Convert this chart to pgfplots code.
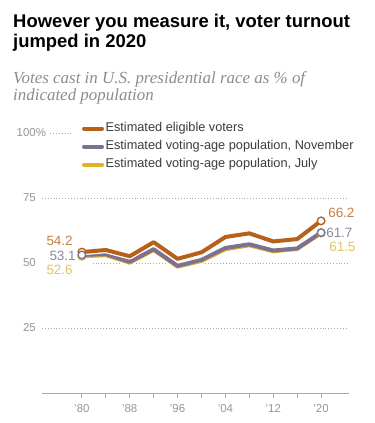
\documentclass[border=0pt]{standalone}
\usepackage{pgfplots}
\pgfplotsset{compat=1.18}
\usepackage{fontspec}
\setmainfont{Liberation Sans}
\newfontfamily\subfont{Liberation Serif}
\definecolor{cOr}{RGB}{183,96,26}
\definecolor{cPu}{RGB}{125,112,145}
\definecolor{cYe}{RGB}{224,178,36}
\definecolor{lOr}{RGB}{196,125,70}
\definecolor{lPu}{RGB}{140,135,160}
\definecolor{lYe}{RGB}{228,195,100}
\definecolor{tgrey}{RGB}{150,150,150}
\definecolor{ggrey}{RGB}{170,170,170}
\definecolor{sgrey}{RGB}{140,140,140}
\definecolor{legtext}{RGB}{60,60,60}
\begin{document}
\begin{tikzpicture}[x=1bp,y=1bp]
\path[use as bounding box] (-42,-30) rectangle (333,393);
\node[anchor=base west, inner sep=0pt, font=\bfseries\fontsize{18.5}{22}\selectfont] at (-29,366) {However you measure it, voter turnout};
\node[anchor=base west, inner sep=0pt, font=\bfseries\fontsize{18.5}{22}\selectfont] at (-29,346) {jumped in 2020};
\node[anchor=base west, inner sep=0pt, text=sgrey, font=\subfont\itshape\fontsize{17}{19}\selectfont] at (-29,310) {Votes cast in U.S. presidential race as \% of};
\node[anchor=base west, inner sep=0pt, text=sgrey, font=\subfont\itshape\fontsize{17}{19}\selectfont] at (-29,293) {indicated population};
\begin{axis}[
  at={(0,0)}, anchor=south west,
  scale only axis, width=307bp, height=260bp,
  xmin=1973.33, xmax=2024.67, ymin=0, ymax=100,
  clip=false,
  axis x line*=bottom, axis y line*=left,
  x axis line style={draw=ggrey, line width=0.8bp, -},
  y axis line style={draw=none},
  xtick={1980,1984,...,2020},
  xticklabels={’80,,’88,,’96,,’04,,’12,,’20},
  xtick align=outside, major tick length=5bp,
  xtick style={draw=ggrey, line width=0.8bp},
  ytick={25,50,75,100},
  yticklabels={25,50,75,100\rlap{\%}},
  ytick style={draw=none},
  yticklabel style={anchor=east, inner sep=0pt, xshift=-6bp},
  xticklabel style={inner sep=0pt, yshift=-6bp},
  ticklabel style={text=tgrey, font=\fontsize{11.5}{13}\selectfont},
  legend style={draw=none, fill=white, at={(0.12,1.06)}, anchor=north west,
    font=\fontsize{12.8}{14}\selectfont, text=legtext,
    nodes={inner sep=1.5bp, text height=9bp, text depth=3bp, inner ysep=3bp},
    cells={anchor=west}},
  legend cell align=left,
  legend image code/.code={\draw[line width=4bp, line cap=round] (0bp,0bp) -- (18bp,0bp);},
]
% gridlines
\draw[ggrey, dotted, line width=0.9bp] (axis cs:1973.33,25) -- (axis cs:2024.5,25);
\draw[ggrey, dotted, line width=0.9bp] (axis cs:1981.8,50) -- (axis cs:2024.5,50);
\draw[ggrey, dotted, line width=0.9bp] (axis cs:1973.33,75) -- (axis cs:2024.5,75);
\draw[ggrey, dotted, line width=0.9bp] (axis cs:1974.7,100) -- (axis cs:1978.4,100);
% legend entries
\addlegendimage{cOr}\addlegendentry{Estimated eligible voters}
\addlegendimage{cPu}\addlegendentry{Estimated voting-age population, November}
\addlegendimage{cYe}\addlegendentry{Estimated voting-age population, July}
% July VAP
\addplot[white, line width=6.5bp, line join=round, forget plot] coordinates {(1980,52.6)(1984,53.0)(1988,50.1)(1992,55.0)(1996,48.6)(2000,50.8)(2004,55.3)(2008,56.8)(2012,54.5)(2016,55.4)(2020,61.5)};
\addplot[cYe, line width=4bp, line join=round, forget plot] coordinates {(1980,52.6)(1984,53.0)(1988,50.1)(1992,55.0)(1996,48.6)(2000,50.8)(2004,55.3)(2008,56.8)(2012,54.5)(2016,55.4)(2020,61.5)};
% November VAP
\addplot[cPu, line width=4bp, line join=round, forget plot] coordinates {(1980,53.1)(1984,53.4)(1988,50.5)(1992,55.3)(1996,48.9)(2000,51.2)(2004,55.8)(2008,57.2)(2012,54.8)(2016,55.6)(2020,61.7)};
% eligible
\addplot[white, line width=6.5bp, line join=round, forget plot] coordinates {(1980,54.2)(1984,55.0)(1988,52.6)(1992,58.0)(1996,51.6)(2000,54.1)(2004,60.0)(2008,61.4)(2012,58.3)(2016,59.2)(2020,66.2)};
\addplot[cOr, line width=4bp, line join=round, forget plot] coordinates {(1980,54.2)(1984,55.0)(1988,52.6)(1992,58.0)(1996,51.6)(2000,54.1)(2004,60.0)(2008,61.4)(2012,58.3)(2016,59.2)(2020,66.2)};
% end markers
\addplot[only marks, mark=*, mark size=3.8bp, mark options={fill=white, draw=cYe, line width=1.4bp}, forget plot] coordinates {(1980,52.6)(2020,61.5)};
\addplot[only marks, mark=*, mark size=3.8bp, mark options={fill=white, draw=cOr, line width=1.4bp}, forget plot] coordinates {(1980,54.2)(2020,66.2)};
\addplot[only marks, mark=*, mark size=3.8bp, mark options={fill=white, draw=cPu, line width=1.4bp}, forget plot] coordinates {(1980,53.1)(2020,61.7)};
% value labels
\node[anchor=east, inner sep=0pt, text=lOr, font=\fontsize{13.5}{15}\selectfont, xshift=-9bp, yshift=11bp] at (axis cs:1980,54.2) {54.2};
\node[anchor=east, inner sep=0pt, text=lPu, font=\fontsize{13.5}{15}\selectfont, xshift=-6bp, yshift=-1bp] at (axis cs:1980,53.1) {53.1};
\node[anchor=east, inner sep=0pt, text=lYe, font=\fontsize{13.5}{15}\selectfont, xshift=-9bp, yshift=-14bp] at (axis cs:1980,52.6) {52.6};
\node[anchor=west, inner sep=0pt, text=lOr, font=\fontsize{13.5}{15}\selectfont, xshift=7bp, yshift=8bp] at (axis cs:2020,66.2) {66.2};
\node[anchor=west, inner sep=0pt, text=lPu, font=\fontsize{13.5}{15}\selectfont, xshift=5bp, yshift=0bp] at (axis cs:2020,61.7) {61.7};
\node[anchor=west, inner sep=0pt, text=lYe, font=\fontsize{13.5}{15}\selectfont, xshift=8bp, yshift=-14bp] at (axis cs:2020,61.5) {61.5};
\end{axis}
\end{tikzpicture}
\end{document}
